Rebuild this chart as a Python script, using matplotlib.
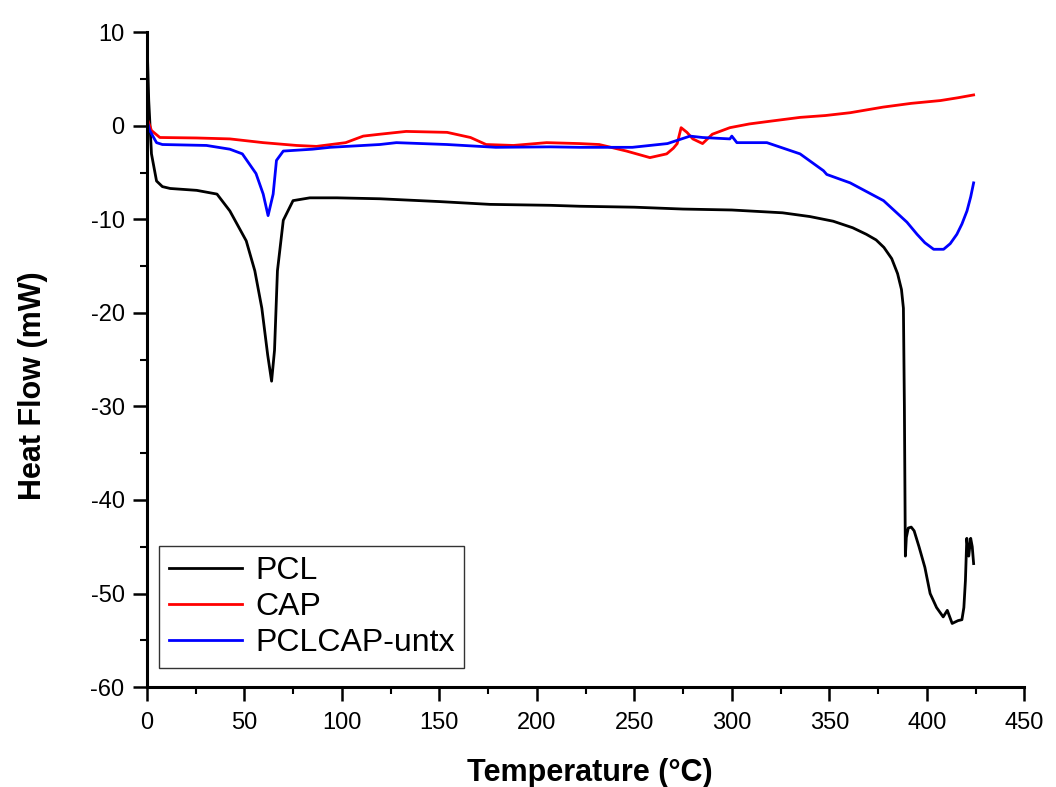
import matplotlib
matplotlib.use("Agg")
import matplotlib.pyplot as plt
from matplotlib.ticker import MultipleLocator

plt.rcParams['font.family'] = ['Liberation Sans', 'DejaVu Sans']
plt.rcParams['axes.unicode_minus'] = False

# PCL (black)
pcl_t = [0, 1, 2.4, 5, 8, 12, 25.6, 36, 42.6, 51, 55.4, 59, 62, 64, 65.5, 67, 70, 75, 83.6,
         97.5, 119.5, 150, 176, 207, 222, 250, 275, 300, 326, 340, 352, 362, 369, 374, 378,
         382, 385, 387, 388, 388.5, 389, 389.5, 390.5, 392, 393.5, 396, 399, 401.7, 405,
         408.4, 410.5, 413, 416, 418, 419, 419.8, 420.5, 421.5, 422.5, 423.3, 424]
pcl_hf = [10, 2.7, -3, -5.9, -6.5, -6.7, -6.9, -7.3, -9.1, -12.3, -15.5, -19.5, -24.5, -27.3, -24, -15.5,
          -10.1, -8.0, -7.7, -7.7, -7.8, -8.1, -8.4, -8.5, -8.6, -8.7, -8.9, -9.0, -9.3, -9.7, -10.2, -10.9,
          -11.6, -12.2, -13, -14.2, -15.8, -17.5, -19.5, -30, -46, -44, -43, -42.9, -43.3, -45, -47.2, -50, -51.5,
          -52.5, -51.8, -53.2, -52.9, -52.8, -51.5, -48.6, -44.1, -46, -44.1, -45, -46.8]

# CAP (red)
cap_t = [0, 2.4, 6.7, 25.5, 42.6, 59.7, 76.8, 87, 102, 111, 119.5, 133, 154, 166, 174, 188, 205,
         222, 232, 246, 258, 266.6, 270, 272, 274, 277, 280, 285, 290, 299, 309, 320, 335, 348,
         360.7, 377.6, 392, 407, 416, 424]
cap_hf = [0.9, -0.5, -1.25, -1.3, -1.4, -1.8, -2.1, -2.2, -1.8, -1.1, -0.9, -0.6, -0.7, -1.25,
          -2.0, -2.1, -1.8, -1.9, -2.0, -2.7, -3.4, -3.0, -2.4, -1.9, -0.2, -0.7, -1.4, -1.9, -0.9,
          -0.2, 0.2, 0.5, 0.9, 1.1, 1.4, 2.0, 2.4, 2.7, 3.0, 3.3]

# PCLCAP-untx (blue)
blend_t = [0, 1.5, 5, 8, 30.6, 42.6, 49, 56, 59.7, 62.2, 64.8, 66.5, 70, 85, 94, 119.5, 128, 154,
           179, 207, 222, 249, 267, 278.6, 285, 299, 300, 302.6, 318, 335, 347, 348.7, 360.7,
           377.8, 389.8, 395, 399, 403.5, 408.6, 412, 415.4, 418, 420.6, 422.5, 424]
blend_hf = [0.7, -0.5, -1.8, -2.0, -2.1, -2.5, -3.0, -5.1, -7.3, -9.6, -7.3, -3.7, -2.7, -2.5, -2.3,
            -2.0, -1.8, -2.0, -2.3, -2.25, -2.3, -2.3, -1.9, -1.1, -1.25, -1.4, -1.1, -1.8, -1.8, -3.0,
            -4.8, -5.2, -6.1, -8.0, -10.3, -11.6, -12.5, -13.2, -13.2, -12.6, -11.6, -10.5, -9.1, -7.6, -6.1]

labels = ["PCL", "CAP", "PCLCAP-untx"]
colors = ["black", "red", "blue"]

fig = plt.figure(figsize=(10.56, 7.87), dpi=100)
ax = fig.add_axes([0.139, 0.127, 0.831, 0.832])

for t, hf, lab, c in zip([pcl_t, cap_t, blend_t], [pcl_hf, cap_hf, blend_hf], labels, colors):
    ax.plot(t, hf, color=c, lw=2.0, label=lab)

ax.set_xlim(0, 450)
ax.set_ylim(-60, 10)
ax.xaxis.set_major_locator(MultipleLocator(50))
ax.xaxis.set_minor_locator(MultipleLocator(25))
ax.yaxis.set_major_locator(MultipleLocator(10))
ax.yaxis.set_minor_locator(MultipleLocator(5))

for s in ['top', 'right']:
    ax.spines[s].set_visible(False)
for s in ['left', 'bottom']:
    ax.spines[s].set_linewidth(2.2)

ax.tick_params(which='major', direction='out', length=10, width=1.8, labelsize=17, pad=6)
ax.tick_params(axis='x', which='major', pad=8)
ax.tick_params(which='minor', direction='out', length=5, width=1.5)

ax.set_xlabel("Temperature (°C)", fontsize=22, fontweight='bold')
ax.set_ylabel("Heat Flow (mW)", fontsize=22, fontweight='bold')
ax.xaxis.set_label_coords(0.505, -0.108)
ax.yaxis.set_label_coords(-0.112, 0.46)

leg = ax.legend(loc='lower left', bbox_to_anchor=(0.014, 0.029), bbox_transform=ax.transAxes,
                fontsize=23, frameon=True, fancybox=False, edgecolor='black',
                handlelength=2.3, borderpad=0.3, labelspacing=0.2, handletextpad=0.4,
                borderaxespad=0.0)
leg.get_frame().set_linewidth(1.0)
for line in leg.get_lines():
    line.set_linewidth(2.0)

fig.savefig("out.png", dpi=100)
